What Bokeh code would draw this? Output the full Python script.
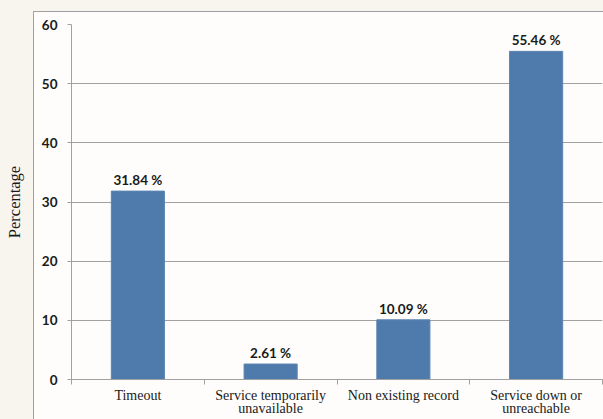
from bokeh.plotting import figure
from bokeh.models import Range1d, FixedTicker, ColumnDataSource
from bokeh.core.properties import value
from bokeh.embed import file_html
from bokeh.resources import INLINE

categories = ["Timeout", "Service temporarily\nunavailable", "Non existing record", "Service down or\nunreachable"]
percentages = [31.84, 2.61, 10.09, 55.46]
y_ticks = [0, 10, 20, 30, 40, 50, 60]

centers = [i + 0.5 for i in range(len(categories))]
bounds = list(range(len(categories) + 1))
labels = [f"{v:.2f} %" for v in percentages]

src = ColumnDataSource(dict(x=centers, top=percentages, label=labels))

p = figure(width=603, height=419, output_backend="svg", toolbar_location=None,
           x_range=Range1d(0, len(categories)), y_range=Range1d(0, 60),
           min_border_left=71, min_border_right=1, min_border_top=24, min_border_bottom=40)

p.background_fill_color = "#fefdfb"
p.border_fill_color = None
p.outline_line_color = None
p.styles = {
    "background-color": "#fefdfb",
    "background-image": ("linear-gradient(#a0a0a0,#a0a0a0), linear-gradient(#a0a0a0,#a0a0a0), "
                         "linear-gradient(#f8f5ef,#f8f5ef), linear-gradient(#f8f5ef,#f8f5ef)"),
    "background-size": "1px 408px, 570px 1px, 33px 419px, 603px 11px",
    "background-position": "33px 11px, 33px 11px, 0px 0px, 0px 0px",
    "background-repeat": "no-repeat",
}

p.vbar(x="x", top="top", width=0.4, bottom=0, source=src,
       fill_color="#4f7bac", line_color="#5a84b3", line_width=1)

p.text(x="x", y="top", text="label", source=src, text_align="center",
       text_baseline="alphabetic", y_offset=-11,
       text_font=value("Lato"), text_font_style="bold", text_font_size="13.5px",
       text_color="#1a1a1a")

# x axis
xa = p.xaxis[0]
xa.ticker = FixedTicker(ticks=centers, minor_ticks=bounds)
xa.major_label_overrides = {c: lab for c, lab in zip(centers, categories)}
xa.major_tick_out = 0
xa.major_tick_in = 0
xa.minor_tick_out = 5
xa.minor_tick_in = 0
xa.minor_tick_line_color = "#a0a0a0"
xa.axis_line_color = "#a0a0a0"
xa.major_label_standoff = 3
xa.major_label_text_font = "Liberation Serif"
xa.major_label_text_font_size = "14px"
xa.major_label_text_line_height = 0.9
xa.major_label_text_color = "#1a1a1a"

# y axis
ya = p.yaxis[0]
ya.ticker = FixedTicker(ticks=y_ticks)
ya.major_tick_out = 4
ya.major_tick_in = 0
ya.minor_tick_line_color = None
ya.major_tick_line_color = "#a0a0a0"
ya.axis_line_color = "#a0a0a0"
ya.major_label_standoff = 10
ya.major_label_text_font = "Lato"
ya.major_label_text_font_style = "bold"
ya.major_label_text_font_size = "13.5px"
ya.major_label_text_color = "#1a1a1a"
ya.axis_label = "Percentage"
ya.axis_label_standoff = 15
ya.axis_label_text_font = "Liberation Serif"
ya.axis_label_text_font_style = "normal"
ya.axis_label_text_font_size = "16.5px"
ya.axis_label_text_color = "#1a1a1a"

p.xgrid.visible = False
p.ygrid.grid_line_color = "#a0a0a0"

open("out.html", "w").write(file_html(p, INLINE))
